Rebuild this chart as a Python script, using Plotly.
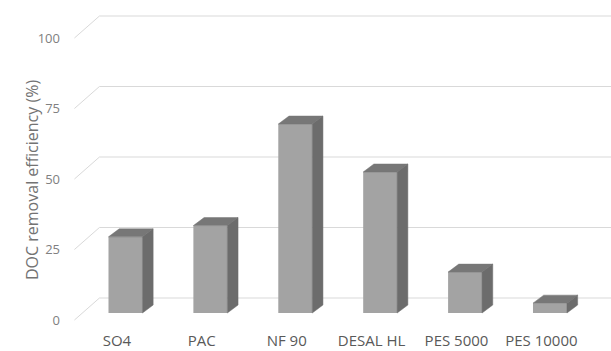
import plotly.graph_objects as go

# ---- data -------------------------------------------------------------
categories = ["SO4", "PAC", "NF 90", "DESAL HL", "PES 5000", "PES 10000"]
removal = [27, 31, 67, 50, 14.5, 3.5]
y_ticks = [0, 25, 50, 75, 100]

# ---- oblique 3-D projection (axis units) ------------------------------
WALL_DX, WALL_DY = 0.2945, 7.8            # front edge of side wall -> back wall
BAR_FRONT_DX, BAR_FRONT_DY = 0.101, 2.48  # front plane -> front face of bars
BAR_DEPTH_DX, BAR_DEPTH_DY = 0.126, 2.84  # bar depth
BAR_W = 0.4

FRONT = "#a3a3a3"
SIDE = "#6c6c6c"
TOP = "#777777"
GRID = "#d9d9d9"

W, H = 611, 351
L, T, B = 66, 9, 22
PX_PER_CAT = 84.9
PX_PER_UNIT = 2.82
X0_PX, Y0_PX = 116.9, 320.0

x_range = [(L - X0_PX) / PX_PER_CAT, (W - X0_PX) / PX_PER_CAT]
y_range = [(Y0_PX - (H - B)) / PX_PER_UNIT, (Y0_PX - T) / PX_PER_UNIT]

fig = go.Figure()
n = len(categories)

# side-wall diagonals and back-wall gridlines, kept beneath the columns
for t in y_ticks:
    fig.add_shape(type="line", xref="x", yref="y", layer="below",
                  x0=-0.5, y0=t, x1=-0.5 + WALL_DX, y1=t + WALL_DY,
                  line=dict(color=GRID, width=1))
    fig.add_shape(type="line", xref="x", yref="y", layer="below",
                  x0=-0.5 + WALL_DX, y0=t + WALL_DY,
                  x1=n - 0.5 + WALL_DX + 0.2, y1=t + WALL_DY,
                  line=dict(color=GRID, width=1))

# front faces of the columns
fig.add_trace(go.Bar(
    x=[i + BAR_FRONT_DX for i in range(n)],
    y=removal,
    base=[BAR_FRONT_DY] * n,
    width=[BAR_W] * n,
    marker=dict(color=FRONT, line=dict(width=0)),
    hovertext=categories, showlegend=False,
))

# top and side faces
for i, v in enumerate(removal):
    xl = i + BAR_FRONT_DX - BAR_W / 2
    xr = i + BAR_FRONT_DX + BAR_W / 2
    yb = BAR_FRONT_DY
    yt = BAR_FRONT_DY + v
    dx, dy = BAR_DEPTH_DX, BAR_DEPTH_DY
    fig.add_trace(go.Scatter(
        x=[xl, xr, xr + dx, xl + dx, xl],
        y=[yt, yt, yt + dy, yt + dy, yt],
        mode="lines", fill="toself", fillcolor=TOP,
        line=dict(color=TOP, width=0.5),
        hoverinfo="skip", showlegend=False))
    fig.add_trace(go.Scatter(
        x=[xr, xr + dx, xr + dx, xr, xr],
        y=[yt, yt + dy, yb + dy, yb, yt],
        mode="lines", fill="toself", fillcolor=SIDE,
        line=dict(color=SIDE, width=0.5),
        hoverinfo="skip", showlegend=False))

fig.add_annotation(
    text="DOC removal efficiency (%)",
    xref="paper", yref="y",
    x=(19 - L) / (W - L), y=(Y0_PX - 180) / PX_PER_UNIT,
    textangle=-90, showarrow=False,
    font=dict(family="Open Sans", size=16, color="#737373"),
)

fig.update_layout(
    width=W, height=H,
    margin=dict(l=L, r=0, t=T, b=B, autoexpand=False),
    paper_bgcolor="white", plot_bgcolor="white",
    font=dict(family="Open Sans"),
    xaxis=dict(range=x_range, tickmode="array",
               tickvals=list(range(n)), ticktext=categories,
               showgrid=False, zeroline=False, showline=False, ticks="",
               ticklabelstandoff=1,
               tickfont=dict(size=15, color="#595959"), fixedrange=True),
    yaxis=dict(range=y_range, tickmode="array", tickvals=y_ticks,
               showgrid=False, zeroline=False, showline=False, ticks="",
               ticklabelstandoff=5,
               tickfont=dict(size=13, color="#808080"), fixedrange=True),
    showlegend=False,
)

fig.write_html("out.html")
